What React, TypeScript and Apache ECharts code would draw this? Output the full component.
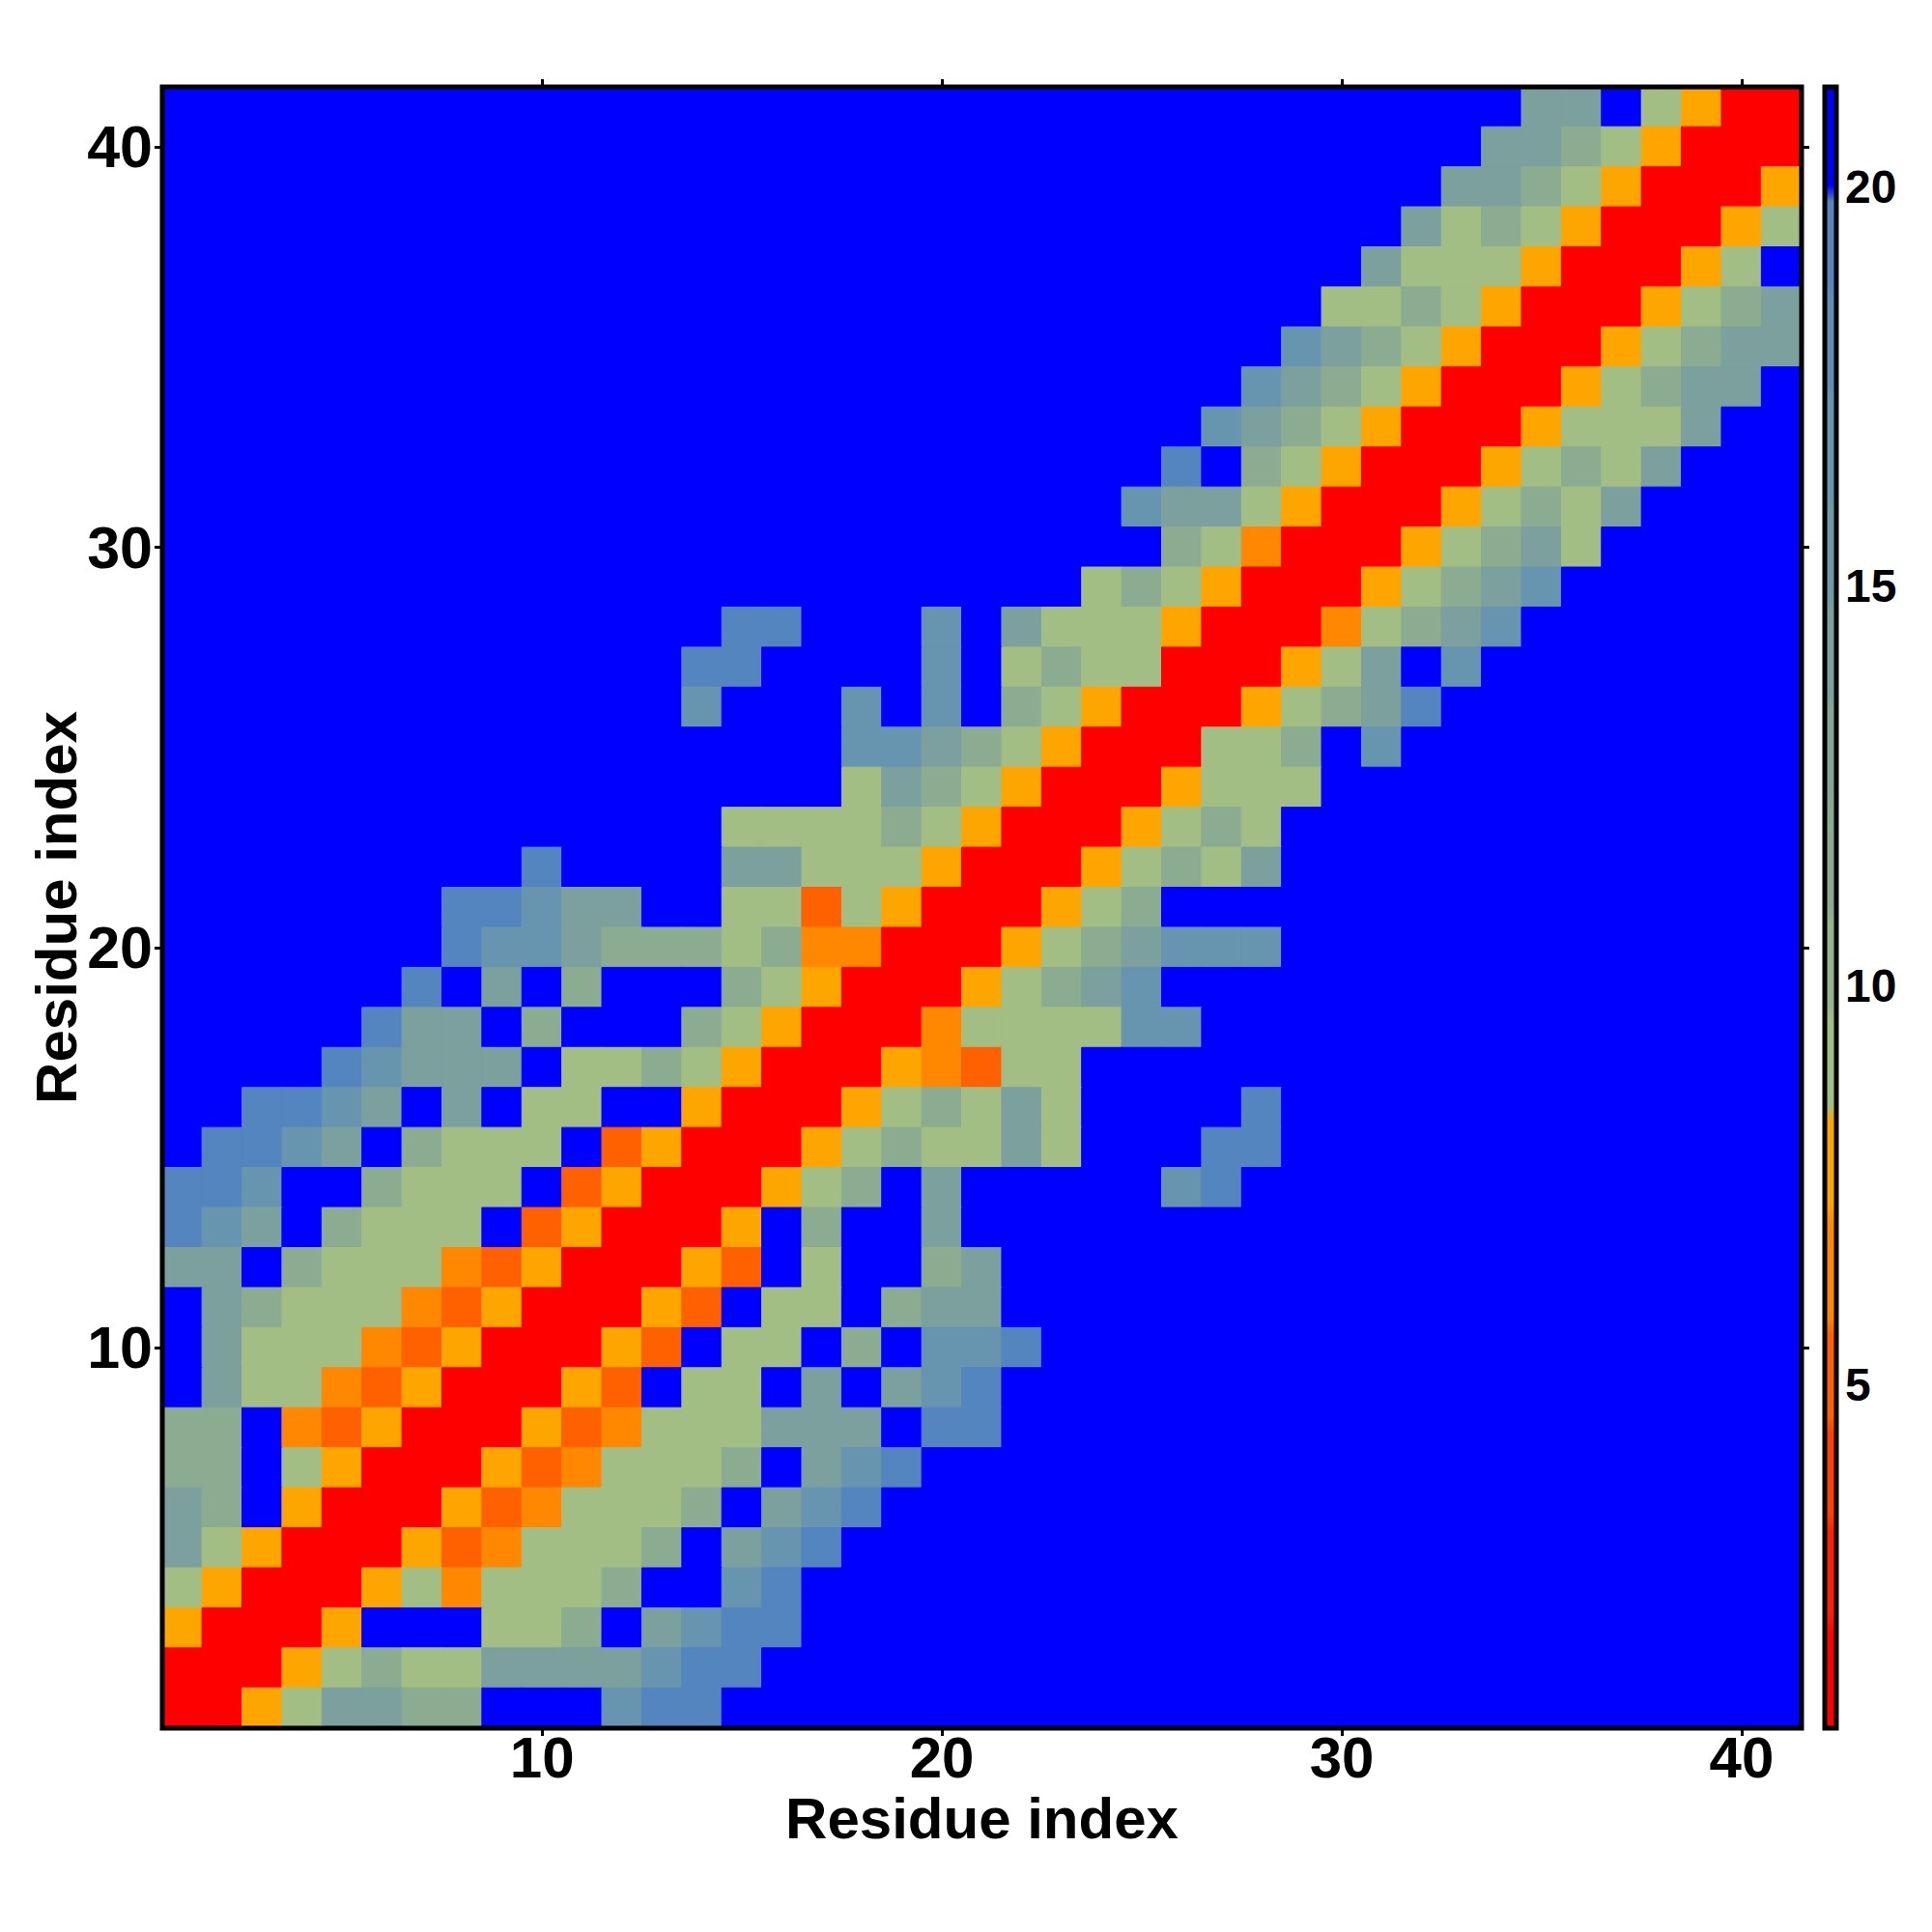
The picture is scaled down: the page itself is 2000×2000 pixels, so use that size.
import React, { useEffect, useRef } from "react";
import * as echarts from "echarts";

// ---------- data ----------
const RESIDUES: string[] = Array.from({ length: 41 }, (_, i) => String(i + 1));
const COLORBAR_TICKS = [5, 10, 15, 20];
const VMIN = 0.7;
const VMAX = 21.25;
const N_BANDS = 16;

// discrete colormap (16 bands, bottom -> top)
const BAND_COLORS = [
  "#FF0000", "#FF2000", "#FF4000", "#FF6000", "#FF8800", "#FFA500",
  "#A3BE85", "#97B58B", "#8BAC90", "#83A697", "#7BA09E", "#719AA7",
  "#6795B0", "#5E8DB7", "#5585BE", "#0000FF",
];

// cell code -> colour band (1..16)
const CODE_BAND: Record<string, number> = {
  R: 1, r: 4, o: 5, Y: 6, g: 7, h: 9, t: 11, s: 13, b: 15, ".": 16,
};

// rows from residue 41 (top) down to residue 1 (bottom):
// [number of leading far cells, following cells]; the rest of a row is far (blue)
const ROWS: [number, string][] = [
  [34, "tt.gYRR"],
  [33, "tthgYRRR"],
  [32, "tthgYRRRY"],
  [31, "tghgYRRRYg"],
  [30, "tgggYRRRYg."],
  [29, "gghgYRRRYght"],
  [28, "sthgYRRRYghtt"],
  [27, "sthgYRRRYghtt."],
  [26, "sthgYRRRYgggt.."],
  [25, "b.hgYRRRYghgt"],
  [24, "sttgYRRRYghgt"],
  [25, "hgoRRRYghtg"],
  [23, "ghgYRRRYghts"],
  [14, "bb...s.tgggYRRRoghts"],
  [13, "bb....s.ghggRRRYgt.s"],
  [13, "s...s.s.hgYRRRYghtb"],
  [17, "ssthgYRRRggh.s"],
  [17, "gthgYRRRYggg"],
  [14, "gggghgYRRRYghg"],
  [9, "b....ttgggYRRRYghgt"],
  [7, "bbstt..ggrgYRRRYgh"],
  [7, "bssthhhghooRRRYghtsss"],
  [6, "b.t.h...hgYRRRYghts"],
  [5, "btt.h...hgYRRRoggggss"],
  [4, "bsttt.gghgYRRRYorgg"],
  [2, "bbst.t.gg..YRRRYghgtg....b"],
  [1, "bbst.hggg.rYRRRYghggtg...bb"],
  [0, "bbs..hggg.rYRRRYgh.t.....sb"],
  [0, "bst.hggg.rYRRRY.h..t"],
  [0, "tt.hgggorYRRRYr.g..ht"],
  [0, ".thgggorYRRRYr.gg.htt"],
  [0, ".tgggorYRRRYr.gg.h.ssb"],
  [0, ".tggorYRRRYr.gg.t.tsb"],
  [0, "hh.orYRRRYrogggttt.bb"],
  [0, "hh.gYRRRYrogggh.tsb"],
  [0, "th.YRRRYrogggh.tsb"],
  [0, "tgYRRRYrogggh.tsb"],
  [0, "gYRRRYgogggh..sb"],
  [0, "YRRRY...ggh.tsbb"],
  [0, "RRRYghggttttsbb"],
  [0, "RRYgtthh...sbb"],
];

// ---------- derived ----------
const BW = (VMAX - VMIN) / N_BANDS;
const bandValue = (band: number) => VMIN + (band - 0.5) * BW;

const HEAT: any[] = [];
ROWS.forEach(([lead, body], i) => {
  const line = (".".repeat(lead) + body).padEnd(41, ".");
  const yIdx = 40 - i;
  for (let x = 0; x < 41; x++) {
    const band = CODE_BAND[line[x]] ?? 16;
    HEAT.push({
      value: [x, yIdx, bandValue(band)],
      itemStyle: { borderColor: BAND_COLORS[band - 1], borderWidth: 1 },
    });
  }
});

const STEPS = 20;
const STOPS: string[] = [];
for (let i = 0; i <= N_BANDS * STEPS; i++) {
  STOPS.push(BAND_COLORS[Math.min(N_BANDS - 1, Math.floor(i / STEPS))]);
}

const FONT = "Liberation Sans, Arial, Helvetica, sans-serif";
const tickShow = (i: number) => (i + 1) % 10 === 0;

export default function App() {
  const ref = useRef<HTMLDivElement>(null);
  useEffect(() => {
    document.body.style.margin = "0";
    const chart = echarts.init(ref.current!, undefined, { renderer: "svg" });
    const labelFont = { fontFamily: FONT, fontWeight: "bold" as const, fontSize: 60, lineHeight: 50, color: "#000" };
    const tickStyle = { color: "#000", width: 3 };
    const nameStyle = { fontFamily: FONT, fontWeight: "bold" as const, fontSize: 60, lineHeight: 50, color: "#000" };
    chart.setOption({
      animation: false,
      backgroundColor: "#ffffff",
      grid: [
        { left: 168, top: 90, width: 1697, height: 1699, show: true, borderColor: "#000", borderWidth: 5, backgroundColor: "transparent", z: 10 },
        { left: 1889, top: 90, width: 12, height: 1699, show: true, borderColor: "#000", borderWidth: 5, backgroundColor: "transparent", z: 10 },
      ],
      xAxis: [
        {
          type: "category", gridIndex: 0, data: RESIDUES, position: "bottom",
          axisLine: { show: false },
          axisTick: { show: true, alignWithLabel: true, interval: tickShow, length: 8, lineStyle: tickStyle },
          axisLabel: { interval: tickShow, margin: 5, ...labelFont },
          splitLine: { show: false },
          name: "Residue index", nameLocation: "middle", nameGap: 68, nameMoveOverlap: false,
          nameTextStyle: nameStyle,
        },
        {
          type: "category", gridIndex: 0, data: RESIDUES, position: "top",
          axisLine: { show: false },
          axisTick: { show: true, alignWithLabel: true, interval: tickShow, length: 8, lineStyle: tickStyle },
          axisLabel: { show: false },
          splitLine: { show: false },
        },
        { type: "value", gridIndex: 1, show: false, min: 0, max: 1 },
      ],
      yAxis: [
        {
          type: "category", gridIndex: 0, data: RESIDUES, position: "left",
          axisLine: { show: false },
          axisTick: { show: true, alignWithLabel: true, interval: tickShow, length: 8, lineStyle: tickStyle },
          axisLabel: { interval: tickShow, margin: 10, ...labelFont, fontSize: 61 },
          splitLine: { show: false },
          name: "Residue index", nameLocation: "middle", nameGap: 85, nameMoveOverlap: false,
          nameTextStyle: nameStyle,
        },
        {
          type: "category", gridIndex: 0, data: RESIDUES, position: "right",
          axisLine: { show: false },
          axisTick: { show: true, alignWithLabel: true, interval: tickShow, length: 8, lineStyle: tickStyle },
          axisLabel: { show: false },
          splitLine: { show: false },
        },
        {
          type: "value", gridIndex: 1, min: VMIN, max: VMAX, position: "right",
          axisLine: { show: false },
          axisTick: { show: true, customValues: COLORBAR_TICKS, length: 7, lineStyle: tickStyle },
          axisLabel: { customValues: COLORBAR_TICKS, margin: 9, fontFamily: FONT, fontWeight: "bold", fontSize: 48, color: "#000" },
          splitLine: { show: false },
        },
      ],
      visualMap: {
        type: "continuous", min: VMIN, max: VMAX, dimension: 2, seriesIndex: 0,
        calculable: false, show: true, orient: "vertical",
        left: 1889, top: 90, itemWidth: 12, itemHeight: 1699, padding: 0,
        hoverLink: false,
        inRange: { color: STOPS },
      },
      series: [
        {
          type: "heatmap", xAxisIndex: 0, yAxisIndex: 0, data: HEAT,
          progressive: 0, emphasis: { disabled: true },
        },
      ],
    });
    return () => chart.dispose();
  }, []);
  return (
    <div
      ref={ref}
      style={{ position: "absolute", left: 0, top: 0, width: 2000, height: 2000, background: "#fff" }}
    />
  );
}
